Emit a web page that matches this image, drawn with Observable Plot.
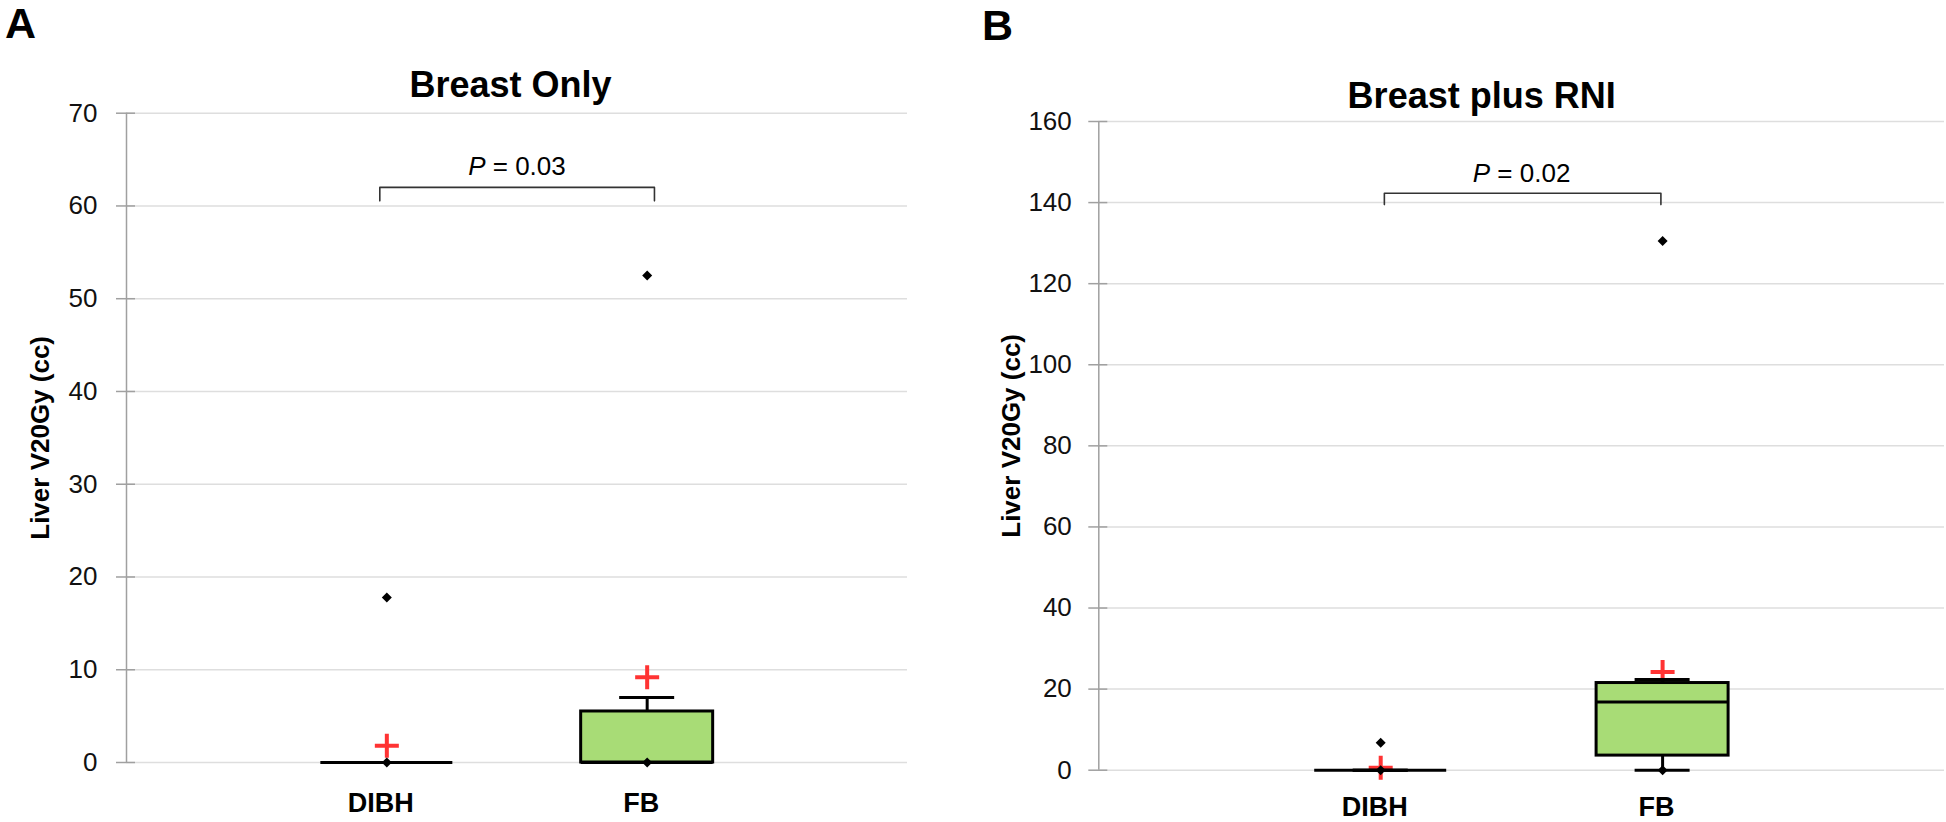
<!DOCTYPE html>
<html>
<head>
<meta charset="utf-8">
<script src="https://cdn.jsdelivr.net/npm/d3@7"></script>
<script src="https://cdn.jsdelivr.net/npm/@observablehq/plot@0.6"></script>
<style>
  body { margin: 0; background: #fff; }
  #wrap { position: relative; width: 1946px; height: 822px; overflow: hidden; font-family: "Liberation Sans", Arial, sans-serif; }
  .panel { position: absolute; top: 0; }
  .letter { position: absolute; font-weight: bold; font-size: 43px; line-height: 1.1; color: #000; padding: 0 2px; }
</style>
</head>
<body>
<div id="wrap">
  <div class="letter" style="left:3px;top:0px">A</div>
  <div class="letter" style="left:980px;top:2px">B</div>
</div>
<script>
// ---------- data ----------
const groups = ["DIBH", "FB"];

// Panel A – Breast Only
const titleA = "Breast Only";
const ticksA = [0, 10, 20, 30, 40, 50, 60, 70];
const q1A = [0, 0];
const medianA = [0, 0];
const q3A = [0, 5.5];
const whiskerLowA = [0, 0];
const whiskerHighA = [0, 7.0];
const meanA = [1.8, 9.2];
const pointsA = [[0, 17.8], [0, 52.5]];
const pValueA = "0.03";

// Panel B – Breast plus RNI
const titleB = "Breast plus RNI";
const ticksB = [0, 20, 40, 60, 80, 100, 120, 140, 160];
const q1B = [0, 3.6];
const medianB = [0, 16.8];
const q3B = [0, 21.5];
const whiskerLowB = [0, 0];
const whiskerHighB = [0, 22.4];
const meanB = [0.6, 24.2];
const pointsB = [[0, 6.8], [0, 130.5]];
const pValueB = "0.02";

const yLabel = "Liver V20Gy (cc)";

// ---------- styling ----------
const FONT = "Liberation Sans, Arial, sans-serif";
const AXIS_GRAY = "#a0a0a0";
const GRID_GRAY = "#dedede";
const GREEN = "#a8dc76";
const RED = "#ff3333";

const diamond = {
  draw(ctx, size) {
    const r = Math.sqrt(size / Math.PI);
    ctx.moveTo(0, -r); ctx.lineTo(r, 0); ctx.lineTo(0, r); ctx.lineTo(-r, 0); ctx.closePath();
  }
};
const plus = {
  draw(ctx, size) {
    const r = Math.sqrt(size / Math.PI);
    ctx.moveTo(-r, 0); ctx.lineTo(r, 0); ctx.moveTo(0, -r); ctx.lineTo(0, r);
  }
};

function panel(cfg) {
  const {width, height, ml, mr, mt, mb, yMax, ticks, title, q1, median, q3, lo, hi, mean, points, pValue,
         bracket, pY, titleDx, titleDy, yLabelDx, yLabelDy, tickPadding, catPadding} = cfg;
  const plotW = width - ml - mr;
  const ux = px => px * 3 / plotW;           // pixels -> x data units
  const rows = groups.map((g, i) => ({g, x: i + 1, q1: q1[i], median: median[i], q3: q3[i], lo: lo[i], hi: hi[i], mean: mean[i]}));
  const pts = points.flatMap((arr, i) => arr.map(v => ({x: i + 1, y: v})));
  const bw = ux(66);   // half box width
  const cw = ux(27.5); // half cap width
  const bracketPts = [[bracket.x1, bracket.y - bracket.drop], [bracket.x1, bracket.y], [bracket.x2, bracket.y], [bracket.x2, bracket.y - bracket.drop]];
  const SW = 3;

  return Plot.plot({
    width, height,
    marginLeft: ml, marginRight: mr, marginTop: mt, marginBottom: mb,
    style: {fontFamily: FONT, background: "transparent", overflow: "visible", color: "#000"},
    x: {type: "linear", domain: [0, 3], label: null},
    y: {type: "linear", domain: [0, yMax], label: null},
    marks: [
      // grid
      Plot.ruleY(ticks, {y: d => d, x1: 0, x2: 3, stroke: GRID_GRAY, strokeWidth: 1.5}),
      // crossing tick marks
      Plot.ruleY(ticks, {y: d => d, x1: ux(-10), x2: ux(9), stroke: AXIS_GRAY, strokeWidth: 1.5}),
      // axis line
      Plot.ruleX([0], {y1: 0, y2: yMax, stroke: AXIS_GRAY, strokeWidth: 1.5}),
      Plot.axisY({ticks, tickSize: 10, tickPadding, stroke: "none", fontSize: 26, fill: "#111", label: null, tickFormat: d => d}),
      Plot.axisX({ticks: [1, 2], tickFormat: i => groups[i - 1], tickSize: 0, tickPadding: catPadding, fontSize: 27, fontWeight: "bold", fill: "#000", dx: -6, label: null}),
      // means (red plus)
      Plot.dot(rows, {x: "x", y: "mean", symbol: plus, r: 12, stroke: RED, strokeWidth: 4, fill: "none"}),
      // whiskers
      Plot.ruleX(rows, {x: "x", y1: "q3", y2: "hi", stroke: "#000", strokeWidth: SW}),
      Plot.ruleX(rows, {x: "x", y1: "lo", y2: "q1", stroke: "#000", strokeWidth: SW}),
      Plot.ruleY(rows, {y: "hi", x1: d => d.x - cw, x2: d => d.x + cw, stroke: "#000", strokeWidth: SW}),
      Plot.ruleY(rows, {y: "lo", x1: d => d.x - cw, x2: d => d.x + cw, stroke: "#000", strokeWidth: SW}),
      // boxes
      Plot.rect(rows.filter(d => d.q3 > d.q1), {x1: d => d.x - bw, x2: d => d.x + bw, y1: "q1", y2: "q3", fill: GREEN, stroke: "#000", strokeWidth: SW}),
      Plot.ruleY(rows, {y: "median", x1: d => d.x - bw, x2: d => d.x + bw, stroke: "#000", strokeWidth: SW}),
      // data points
      Plot.dot(pts, {x: "x", y: "y", symbol: diamond, r: 5, fill: "#000", stroke: "none"}),
      // bracket + p value
      Plot.line(bracketPts, {x: d => d[0], y: d => d[1], stroke: "#333", strokeWidth: 1.6}),
      Plot.text(["P"], {x: 1.5, y: pY, text: d => d, fontStyle: "italic", fontSize: 26, textAnchor: "end", lineAnchor: "bottom", dx: -31.5, fill: "#000"}),
      Plot.text([" = " + pValue], {x: 1.5, y: pY, text: d => d, fontSize: 26, textAnchor: "start", lineAnchor: "bottom", dx: -31.5, fill: "#000"}),
      // title
      Plot.text([title], {frameAnchor: "top", text: d => d, fontSize: 36, fontWeight: "bold", lineAnchor: "bottom", dx: titleDx, dy: titleDy, fill: "#000"}),
      // y label
      Plot.text([yLabel], {frameAnchor: "left", text: d => d, fontSize: 26, fontWeight: "bold", rotate: -90, textAnchor: "middle", lineAnchor: "middle", dx: yLabelDx, dy: yLabelDy, fill: "#000"})
    ]
  });
}

const wrap = document.getElementById("wrap");

const chartA = panel({
  width: 973, height: 822, ml: 126, mr: 66, mt: 112.7, mb: 60,
  yMax: 70, ticks: ticksA, title: titleA,
  q1: q1A, median: medianA, q3: q3A, lo: whiskerLowA, hi: whiskerHighA, mean: meanA, points: pointsA,
  pValue: pValueA, bracket: {x1: 0.973, x2: 2.028, y: 62.0, drop: 1.45}, pY: 63.3,
  titleDx: -6.5, titleDy: -16.7, yLabelDx: -86, yLabelDy: 0, tickPadding: 19, catPadding: 30
});
chartA.classList.add("panel");
chartA.style.left = "0px";
wrap.appendChild(chartA);

const chartB = panel({
  width: 973, height: 822, ml: 125.3, mr: 2, mt: 121, mb: 52.3,
  yMax: 160, ticks: ticksB, title: titleB,
  q1: q1B, median: medianB, q3: q3B, lo: whiskerLowB, hi: whiskerHighB, mean: meanB, points: pointsB,
  pValue: pValueB, bracket: {x1: 1.013, x2: 1.994, y: 142.3, drop: 2.8}, pY: 145.2,
  titleDx: -40, titleDy: -14, yLabelDx: -87, yLabelDy: -10, tickPadding: 17, catPadding: 27
});
chartB.classList.add("panel");
chartB.style.left = "973px";
wrap.appendChild(chartB);
</script>
</body>
</html>
